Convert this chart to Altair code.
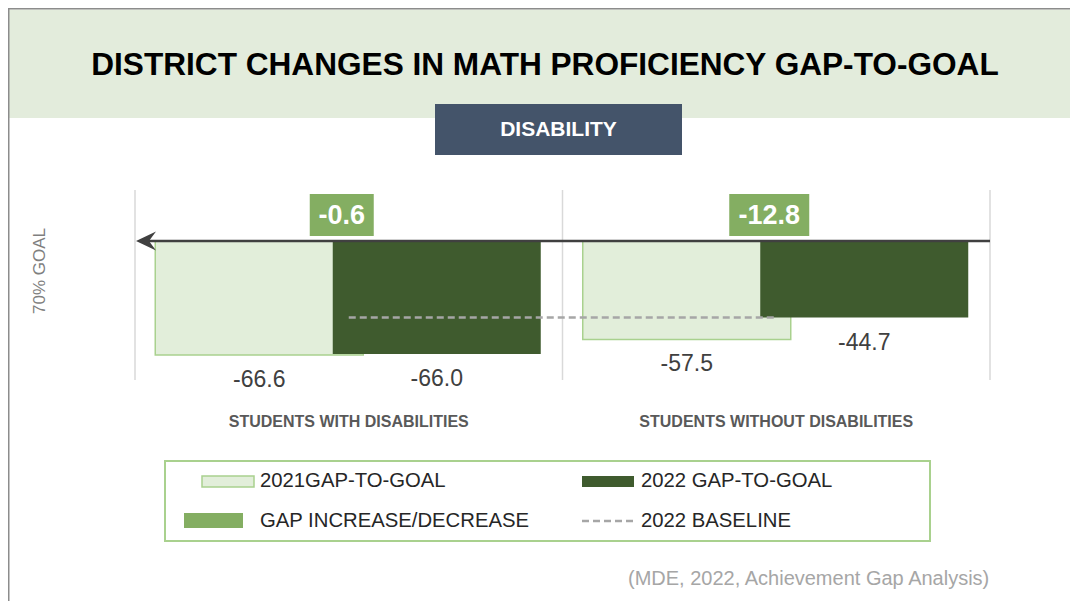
import altair as alt
import pandas as pd

# ---------------- data ----------------
categories = ["STUDENTS WITH DISABILITIES", "STUDENTS WITHOUT DISABILITIES"]
gap_2021 = [-66.6, -57.5]
gap_2022 = [-66.0, -44.7]
gap_change = [-0.6, -12.8]
baseline_2022 = -44.7
legend_labels = ["2021GAP-TO-GOAL", "2022 GAP-TO-GOAL", "GAP INCREASE/DECREASE", "2022 BASELINE"]
title_text = "DISTRICT CHANGES IN MATH PROFICIENCY GAP-TO-GOAL"
subtitle_text = "DISABILITY"
goal_text = "70% GOAL"
source_text = "(MDE, 2022, Achievement Gap Analysis)"

# ---------------- styles ----------------
W, H = 1062, 593
FONT = "Liberation Sans"
C_BAND = "#E3ECDC"
C_SLATE = "#44546A"
C_LIGHT = "#E2EEDA"
C_LIGHT_STROKE = "#A9D18E"
C_DARK = "#3F5B2E"
C_MID = "#84AE62"
C_GRID = "#D9D9D9"
C_GOAL = "#404040"
C_BASE = "#A6A6A6"

def fmt(v):
    return f"{v:.1f}"

df = pd.DataFrame({
    "cat": categories,
    "g2021": gap_2021,
    "g2022": gap_2022,
    "change": gap_change,
    "t2021": [fmt(v) for v in gap_2021],
    "t2022": [fmt(v) for v in gap_2022],
    "tchange": [fmt(v) for v in gap_change],
})
base_df = pd.DataFrame({"cat": categories, "v": [baseline_2022] * len(categories)})
one = pd.DataFrame({"k": [0]})

xs = alt.Scale(domain=categories, range=[127, 982], paddingInner=0, paddingOuter=0)
ys = alt.Scale(domain=[0, -100], range=[233, 404.2], nice=False, zero=False)

def X(**kw):
    return alt.X("cat:N", scale=xs, axis=None, **kw)

layers = []

# title band and title
layers.append(alt.Chart(one).mark_rect(color=C_BAND).encode(
    x=alt.value(0), x2=alt.value(W), y=alt.value(1.5), y2=alt.value(110)))
layers.append(alt.Chart(one).mark_rule(color="#8C8C8C", strokeWidth=1.5).encode(
    x=alt.value(0), x2=alt.value(W), y=alt.value(0.75)))
layers.append(alt.Chart(one).mark_rule(color="#8C8C8C", strokeWidth=1.5).encode(
    x=alt.value(0.75), y=alt.value(0), y2=alt.value(H)))
layers.append(alt.Chart(one).mark_text(font=FONT, fontSize=31.6, fontWeight="bold", color="#000000",
                                       align="center", baseline="middle").encode(
    x=alt.value(537), y=alt.value(58), text=alt.value(title_text)))
layers.append(alt.Chart(one).mark_rect(color=C_SLATE).encode(
    x=alt.value(427), x2=alt.value(674), y=alt.value(96), y2=alt.value(147)))
layers.append(alt.Chart(one).mark_text(font=FONT, fontSize=21, fontWeight="bold", color="#FFFFFF",
                                       align="center", baseline="middle").encode(
    x=alt.value(550.5), y=alt.value(122), text=alt.value(subtitle_text)))

# gridlines at band edges
layers.append(alt.Chart(df).mark_rule(color=C_GRID, strokeWidth=1.5).encode(
    x=X(bandPosition=0), y=alt.value(182), y2=alt.value(372)))
layers.append(alt.Chart(df).transform_filter(alt.datum.cat == categories[-1]).mark_rule(
    color=C_GRID, strokeWidth=1.5).encode(
    x=X(bandPosition=1), y=alt.value(182), y2=alt.value(372)))

# bars
layers.append(alt.Chart(df).mark_bar(width=208, xOffset=-89.5, fill=C_LIGHT, stroke=C_LIGHT_STROKE,
                                     strokeWidth=1.5).encode(
    x=X(), y=alt.Y("g2021:Q", scale=ys, axis=None)))
layers.append(alt.Chart(df).mark_bar(width=208, xOffset=88, fill=C_DARK).encode(
    x=X(), y=alt.Y("g2022:Q", scale=ys, axis=None)))

# goal line with arrow
layers.append(alt.Chart(one).mark_rule(color=C_GOAL, strokeWidth=2.5).encode(
    x=alt.value(132), x2=alt.value(982), y=alt.YDatum(0, type="quantitative", scale=ys, axis=None)))
layers.append(alt.Chart(one).mark_point(shape="M-1,0L1,-0.95L0.3,0L1,0.95Z", filled=True,
                                        color=C_GOAL, opacity=1, size=400, strokeWidth=0).encode(
    x=alt.value(138), y=alt.YDatum(0, type="quantitative", scale=ys, axis=None)))

# 2022 baseline
layers.append(alt.Chart(base_df).mark_line(color=C_BASE, strokeWidth=2.5, strokeDash=[7, 4]).encode(
    x=X(), y=alt.Y("v:Q", scale=ys, axis=None)))

# change boxes
for i, c in enumerate(categories):
    lbl = fmt(gap_change[i])
    sub = alt.Chart(df).transform_filter(alt.datum.cat == c)
    layers.append(sub.mark_bar(width=16 * len(lbl), xOffset=-7, color=C_MID).encode(
        x=X(), y=alt.value(186), y2=alt.value(228)))
layers.append(alt.Chart(df).mark_text(font=FONT, fontSize=27, fontWeight="bold", color="#FFFFFF",
                                      xOffset=-7, baseline="middle").encode(
    x=X(), y=alt.value(208), text="tchange:N"))

# value labels
layers.append(alt.Chart(df).mark_text(font=FONT, fontSize=23, color="#404040", xOffset=-89.5, dy=25,
                                      baseline="middle").encode(
    x=X(), y=alt.Y("g2021:Q", scale=ys, axis=None), text="t2021:N"))
layers.append(alt.Chart(df).mark_text(font=FONT, fontSize=23, color="#404040", xOffset=88, dy=25,
                                      baseline="middle").encode(
    x=X(), y=alt.Y("g2022:Q", scale=ys, axis=None), text="t2022:N"))

# category labels
layers.append(alt.Chart(df).mark_text(font=FONT, fontSize=16, fontWeight="bold", color="#595959",
                                      baseline="middle").encode(
    x=X(), y=alt.value(414), text="cat:N"))

# goal label
layers.append(alt.Chart(one).mark_text(font=FONT, fontSize=17, color="#7F7F7F", angle=270,
                                       align="center", baseline="middle").encode(
    x=alt.value(32), y=alt.value(263), text=alt.value(goal_text)))

# legend
layers.append(alt.Chart(one).mark_rect(fill="#FFFFFF", stroke=C_LIGHT_STROKE, strokeWidth=2).encode(
    x=alt.value(157), x2=alt.value(922), y=alt.value(453), y2=alt.value(533)))
layers.append(alt.Chart(one).mark_rect(fill=C_LIGHT, stroke=C_LIGHT_STROKE, strokeWidth=1.5).encode(
    x=alt.value(194), x2=alt.value(246), y=alt.value(468), y2=alt.value(479)))
layers.append(alt.Chart(one).mark_rect(fill=C_DARK).encode(
    x=alt.value(574), x2=alt.value(626), y=alt.value(468), y2=alt.value(479)))
layers.append(alt.Chart(one).mark_rect(fill=C_MID).encode(
    x=alt.value(176), x2=alt.value(235), y=alt.value(505), y2=alt.value(520)))
layers.append(alt.Chart(one).mark_rule(color=C_BASE, strokeWidth=2.5, strokeDash=[7, 4]).encode(
    x=alt.value(574), x2=alt.value(629), y=alt.value(513)))
leg_pos = [(252, 473), (633, 473), (252, 513), (633, 513)]
for lbl, (lx, ly) in zip(legend_labels, leg_pos):
    layers.append(alt.Chart(one).mark_text(font=FONT, fontSize=20.3, color="#262626", align="left",
                                           baseline="middle").encode(
        x=alt.value(lx), y=alt.value(ly), text=alt.value(lbl)))

# source
layers.append(alt.Chart(one).mark_text(font=FONT, fontSize=20, color="#A6A6A6", align="left",
                                       baseline="middle").encode(
    x=alt.value(620), y=alt.value(571), text=alt.value(source_text)))

chart = alt.layer(*layers).properties(
    width=W, height=H, autosize=alt.AutoSizeParams(type="none"), padding=0, background="white"
).configure_view(stroke=None)

chart.save("out.html", embed_options={"renderer": "svg", "actions": False})
